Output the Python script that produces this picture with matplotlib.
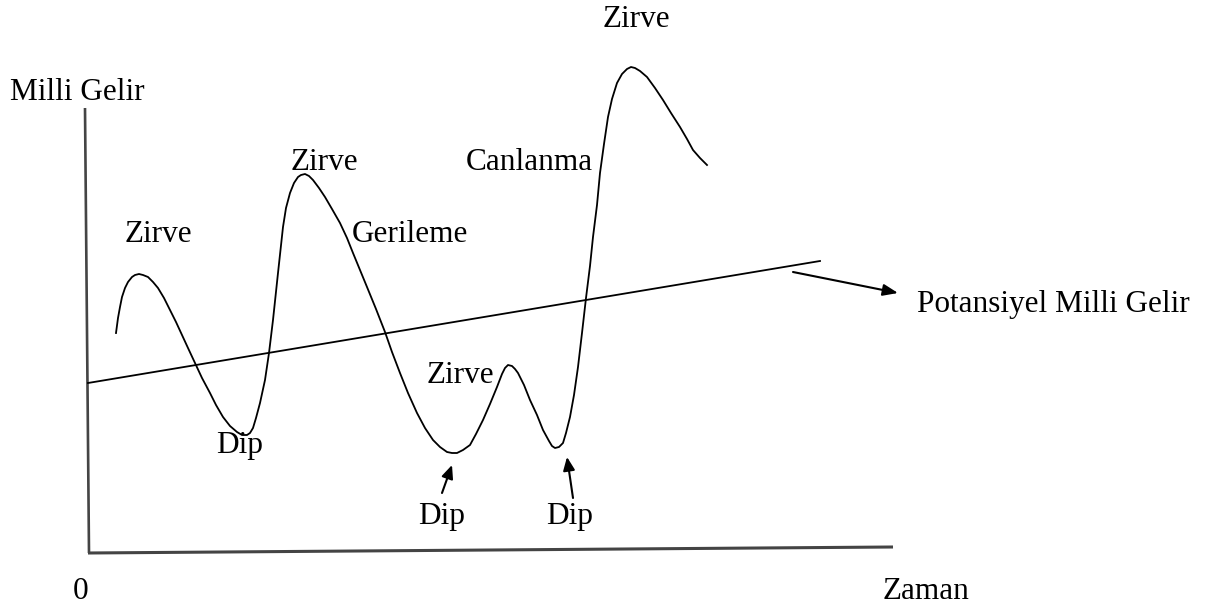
import numpy as np
import matplotlib.pyplot as plt

# business cycle curve (pixel space, y grows downward)
cycle_x = [116, 118, 120, 122, 125, 128, 132, 135, 139, 143, 148, 153, 158, 164, 170, 176,
           182, 188, 195, 202, 210, 216, 223, 230, 237, 242, 247, 250, 253, 256, 260, 265,
           269, 273, 278, 283, 286, 290, 294, 298, 301, 305, 309, 313, 319, 325, 332, 340,
           347, 353, 360, 367, 376, 385, 392, 400, 408, 417, 425, 433, 440, 447, 452, 457,
           463, 470, 476, 483, 490, 497, 502, 505, 508, 512, 515, 518, 524, 530, 537, 543,
           549, 552, 555, 559, 563, 566, 570, 574, 578, 582, 586, 590, 593, 597, 600, 604,
           608, 612, 617, 622, 627, 631, 635, 640, 647, 655, 663, 671, 680, 687, 693, 700,
           707]
cycle_y = [333, 318, 307, 297, 288, 282, 277, 275, 274, 275, 277, 282, 288, 298, 310, 322,
           335, 348, 363, 378, 393, 405, 417, 426, 432, 435, 435, 433, 428, 418, 403, 380,
           353, 320, 273, 227, 208, 193, 183, 177, 175, 174, 176, 180, 188, 197, 209, 223,
           238, 253, 270, 287, 309, 332, 352, 373, 393, 413, 428, 440, 447, 452, 453, 453,
           450, 445, 434, 420, 404, 387, 374, 368, 365, 366, 369, 373, 385, 400, 415, 430,
           441, 446, 448, 447, 443, 433, 417, 395, 367, 333, 298, 266, 237, 205, 173, 144,
           117, 99, 83, 74, 69, 67, 68, 71, 77, 88, 100, 113, 127, 139, 150, 158,
           165]

# potential national income trend line
trend_x = [88, 820]
trend_y = [383, 261]

# axes of the diagram
yaxis_x = [85, 89]
yaxis_y = [108, 553]
xaxis_x = [88, 893]
xaxis_y = [553, 547]

# phase labels: text, x, baseline y
labels = ['Zirve', 'Zirve', 'Gerileme', 'Zirve', 'Canlanma', 'Zirve', 'Dip', 'Dip', 'Dip']
label_x = [158, 324, 410, 636, 529, 460, 240, 442, 570]
label_y = [242, 170, 242, 27, 170, 383, 453, 524, 524]

# small arrows pointing to the troughs: (tail, tip)
dip_arrows = [((442, 493), (452, 465)), ((573, 498), (567, 457))]
trend_arrow = ((793, 272), (898, 293))

plt.rcParams['font.family'] = ['Liberation Serif', 'DejaVu Serif']
fs = 22.5

fig = plt.figure(figsize=(12.07, 6.06), dpi=100)
ax = fig.add_axes([0, 0, 1, 1])
ax.set_xlim(0, 1207)
ax.set_ylim(606, 0)
ax.axis('off')

ax.plot(yaxis_x, yaxis_y, color='#444444', linewidth=1.9, solid_capstyle='butt')
ax.plot(xaxis_x, xaxis_y, color='#444444', linewidth=2.2, solid_capstyle='butt')

ax.plot(trend_x, trend_y, color='black', linewidth=1.3)
ax.plot(cycle_x, cycle_y, color='black', linewidth=1.3, solid_joinstyle='round')

for txt, x, y in zip(labels, label_x, label_y):
    ax.text(x, y, txt, ha='center', va='baseline', fontsize=fs)

for tail, tip in dip_arrows:
    ax.annotate('', xy=tip, xytext=tail,
                arrowprops=dict(arrowstyle='-|>,head_length=0.8,head_width=0.35',
                                color='black', lw=1.5, shrinkA=0, shrinkB=0))

ax.annotate('', xy=trend_arrow[1], xytext=trend_arrow[0],
            arrowprops=dict(arrowstyle='-|>,head_length=0.9,head_width=0.35',
                            color='black', lw=1.5, shrinkA=0, shrinkB=0))

ax.text(10, 100, 'Milli Gelir', ha='left', va='baseline', fontsize=fs)
ax.text(917, 312, 'Potansiyel Milli Gelir', ha='left', va='baseline', fontsize=fs)
ax.text(81, 599, '0', ha='center', va='baseline', fontsize=fs)
ax.text(926, 599, 'Zaman', ha='center', va='baseline', fontsize=fs)

plt.savefig('out.png', dpi=100)
